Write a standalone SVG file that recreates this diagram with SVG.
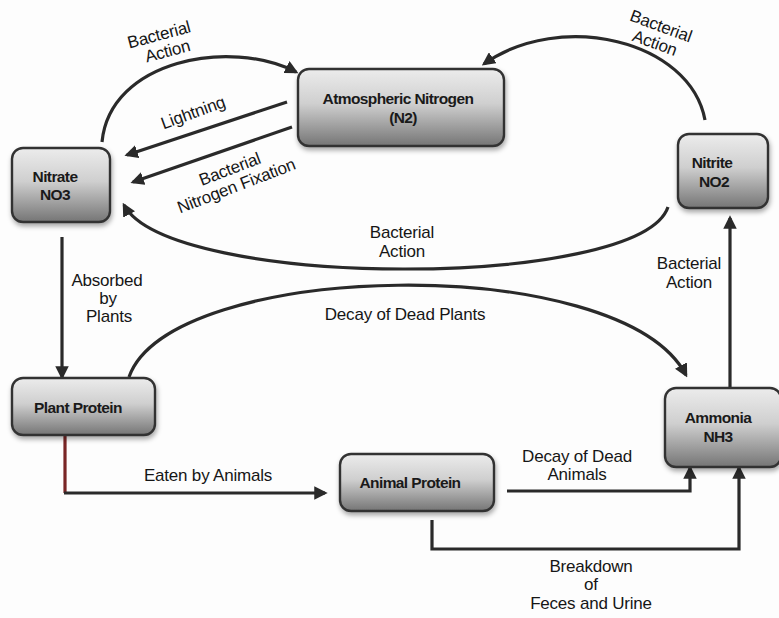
<svg xmlns="http://www.w3.org/2000/svg" width="779" height="618" viewBox="0 0 779 618">
<style>
.box{fill:url(#g);stroke:#333;stroke-width:2.4;filter:url(#sh)}
.nt{font-family:"Liberation Sans",Arial,sans-serif;font-size:15.5px;font-weight:bold;fill:#1a1a1a;text-anchor:middle;letter-spacing:-0.6px}
.lb{font-family:"Liberation Sans",Arial,sans-serif;font-size:17px;fill:#161616;text-anchor:middle;letter-spacing:-0.2px}
.c{fill:none;stroke:#2a2a2a;stroke-width:3.2}
.ca{fill:none;stroke:#2a2a2a;stroke-width:3.2;marker-end:url(#ah)}
</style>
<defs>
<linearGradient id="g" x1="0" y1="0" x2="0" y2="1">
<stop offset="0" stop-color="#ececec"/>
<stop offset="0.45" stop-color="#cfcfcf"/>
<stop offset="1" stop-color="#757575"/>
</linearGradient>
<filter id="sh" x="-20%" y="-20%" width="140%" height="150%">
<feDropShadow dx="1" dy="3" stdDeviation="2.5" flood-color="#000" flood-opacity="0.35"/>
</filter>
<marker id="ah" viewBox="0 0 10 10" refX="8" refY="5" markerWidth="4.2" markerHeight="4.2" orient="auto" markerUnits="strokeWidth">
<path d="M0,0 L10,5 L0,10 Z" fill="#2a2a2a"/>
</marker>
</defs>
<rect width="779" height="618" fill="#fdfdfd"/>
<g id="connectors">
<path class="ca" d="M102,142 C110,60 230,38 296,72"/>
<path class="ca" d="M705,120 C690,40 560,10 484,64"/>
<path class="ca" d="M287,102 L127,155"/>
<path class="ca" d="M292,127 L133,182"/>
<path class="ca" d="M668,207 C640,290 170,290 124,205"/>
<path class="ca" d="M62,237 L62,377"/>
<path class="ca" d="M129,377 C170,260 620,250 686,375"/>
<path class="ca" d="M730,387 L730,218"/>
<path class="c" d="M65,435 L65,493" style="stroke:#7a2626"/>
<path class="ca" d="M64,493 L325,493"/>
<path class="ca" d="M507,491 L690,491 L690,468"/>
<path class="ca" d="M432,520 L432,549 L739,549 L739,468"/>
</g>
<g id="labels">
<g transform="translate(162,46) rotate(-15)"><text class="lb" x="0" y="-6">Bacterial</text><text class="lb" x="4" y="12">Action</text></g>
<g transform="translate(657,37) rotate(20)"><text class="lb" x="0" y="-6">Bacterial</text><text class="lb" x="0" y="12">Action</text></g>
<g transform="translate(195,118) rotate(-20)"><text class="lb" x="0" y="0">Lightning</text></g>
<g transform="translate(234,180) rotate(-21)"><text class="lb" x="0" y="-6">Bacterial</text><text class="lb" x="0" y="12">Nitrogen Fixation</text></g>
<text class="lb" x="402" y="238">Bacterial</text><text class="lb" x="402" y="257">Action</text>
<text class="lb" x="689" y="269">Bacterial</text><text class="lb" x="689" y="288">Action</text>
<text class="lb" x="107" y="286">Absorbed</text><text class="lb" x="108" y="304">by</text><text class="lb" x="109" y="322">Plants</text>
<text class="lb" x="405" y="320">Decay of Dead Plants</text>
<text class="lb" x="208" y="481">Eaten by Animals</text>
<text class="lb" x="577" y="462">Decay of Dead</text><text class="lb" x="577" y="480">Animals</text>
<text class="lb" x="591" y="572">Breakdown</text><text class="lb" x="591" y="590">of</text><text class="lb" x="591" y="609">Feces and Urine</text>
</g>
<g id="n2"><rect class="box" x="298" y="69" width="206" height="77" rx="11"/><text class="nt" x="398" y="104">Atmospheric Nitrogen</text><text class="nt" x="403" y="123">(N2)</text></g>
<g id="no3"><rect class="box" x="12" y="148" width="98" height="74" rx="11"/><text class="nt" x="55" y="182">Nitrate</text><text class="nt" x="55" y="200">NO3</text></g>
<g id="no2"><rect class="box" x="678" y="134" width="90" height="74" rx="11"/><text class="nt" x="712" y="168">Nitrite</text><text class="nt" x="714" y="187">NO2</text></g>
<g id="plant"><rect class="box" x="12" y="378" width="143" height="57" rx="11"/><text class="nt" x="78" y="413">Plant Protein</text></g>
<g id="animal"><rect class="box" x="340" y="454" width="154" height="57" rx="11"/><text class="nt" x="410" y="488">Animal Protein</text></g>
<g id="nh3"><rect class="box" x="665" y="388" width="116" height="79" rx="11"/><text class="nt" x="718" y="423">Ammonia</text><text class="nt" x="718" y="442">NH3</text></g>
</svg>
